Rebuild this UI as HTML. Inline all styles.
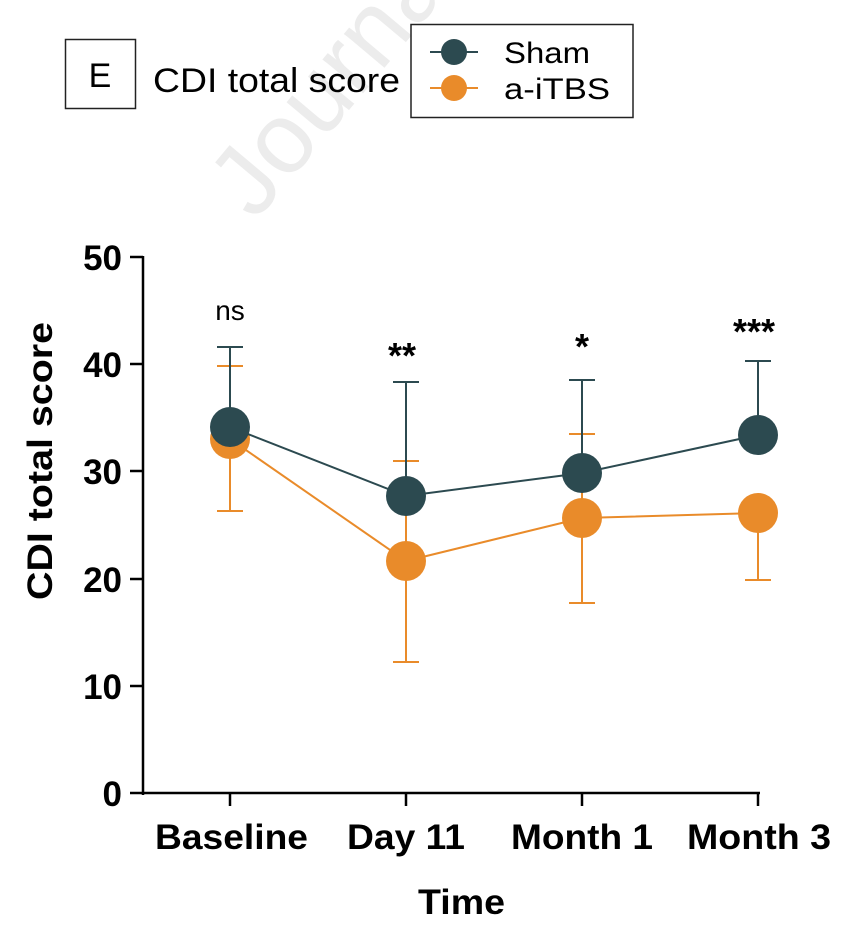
<!DOCTYPE html>
<html><head><meta charset="utf-8"><style>
html,body{margin:0;padding:0;background:#fff;}
svg{display:block;font-family:"Liberation Sans",Arial,sans-serif;}
</style></head><body>
<svg width="867" height="926" viewBox="0 0 867 926" xmlns="http://www.w3.org/2000/svg">
<text x="255" y="222" font-size="100" fill="#ececec" transform="rotate(-50 255 222)">Journal</text>
<rect x="65.5" y="39.5" width="70" height="69" fill="none" stroke="#222" stroke-width="1.5"/>
<text x="100" y="87" font-size="34" text-anchor="middle" fill="#000">E</text>
<text x="153" y="92" font-size="34" fill="#000" textLength="247" lengthAdjust="spacingAndGlyphs">CDI total score</text>
<rect x="411" y="24.5" width="222" height="93" fill="#fff" stroke="#222" stroke-width="1.5"/>
<line x1="430" y1="52" x2="478" y2="52" stroke="#2c4a50" stroke-width="2"/>
<circle cx="454" cy="52" r="13" fill="#2c4a50"/>
<line x1="430" y1="88" x2="478" y2="88" stroke="#e98b2a" stroke-width="2"/>
<circle cx="454" cy="88" r="13" fill="#e98b2a"/>
<text x="504" y="63" font-size="30" fill="#000" textLength="86" lengthAdjust="spacingAndGlyphs">Sham</text>
<text x="504" y="99" font-size="30" fill="#000" textLength="106" lengthAdjust="spacingAndGlyphs">a-iTBS</text>
<g stroke="#000" stroke-width="2.5">
<line x1="143" y1="256" x2="143" y2="795"/>
<line x1="142" y1="793" x2="760" y2="793"/>
<line x1="130" y1="257" x2="143" y2="257"/>
<line x1="130" y1="364" x2="143" y2="364"/>
<line x1="130" y1="471" x2="143" y2="471"/>
<line x1="130" y1="579" x2="143" y2="579"/>
<line x1="130" y1="686" x2="143" y2="686"/>
<line x1="130" y1="793" x2="143" y2="793"/>
<line x1="230" y1="793" x2="230" y2="806"/>
<line x1="406" y1="793" x2="406" y2="806"/>
<line x1="582" y1="793" x2="582" y2="806"/>
<line x1="758" y1="793" x2="758" y2="806"/>
</g>
<g font-size="35" font-weight="bold" text-anchor="end" fill="#000">
<text x="122" y="270">50</text><text x="122" y="377">40</text><text x="122" y="484">30</text>
<text x="122" y="592">20</text><text x="122" y="699">10</text><text x="122" y="806">0</text>
</g>
<g font-size="35" font-weight="bold" fill="#000">
<text x="155" y="849" textLength="153" lengthAdjust="spacingAndGlyphs">Baseline</text>
<text x="347" y="849" textLength="118" lengthAdjust="spacingAndGlyphs">Day 11</text>
<text x="511" y="849" textLength="142" lengthAdjust="spacingAndGlyphs">Month 1</text>
<text x="687" y="849" textLength="144" lengthAdjust="spacingAndGlyphs">Month 3</text>
<text x="418" y="914" textLength="87" lengthAdjust="spacingAndGlyphs">Time</text>
<text transform="translate(52 600) rotate(-90)" textLength="278" lengthAdjust="spacingAndGlyphs">CDI  total score</text>
</g>
<g stroke="#e98b2a" stroke-width="2" fill="none">
<line x1="230" y1="366" x2="230" y2="511"/><line x1="217" y1="366" x2="243" y2="366"/><line x1="217" y1="511" x2="243" y2="511"/>
<line x1="406" y1="461" x2="406" y2="662"/><line x1="393" y1="461" x2="419" y2="461"/><line x1="393" y1="662" x2="419" y2="662"/>
<line x1="582" y1="434" x2="582" y2="603"/><line x1="569" y1="434" x2="595" y2="434"/><line x1="569" y1="603" x2="595" y2="603"/>
<line x1="758" y1="513" x2="758" y2="580"/><line x1="745" y1="580" x2="771" y2="580"/>
<polyline points="230,439 406,561 582,518 758,513"/>
</g>
<g fill="#e98b2a">
<circle cx="230" cy="439" r="20"/><circle cx="406" cy="561" r="20"/><circle cx="582" cy="518" r="20"/><circle cx="758" cy="513" r="20"/>
</g>
<g stroke="#2c4a50" stroke-width="2" fill="none">
<line x1="230" y1="347" x2="230" y2="428"/><line x1="217" y1="347" x2="243" y2="347"/>
<line x1="406" y1="382" x2="406" y2="496"/><line x1="393" y1="382" x2="419" y2="382"/>
<line x1="582" y1="380" x2="582" y2="473"/><line x1="569" y1="380" x2="595" y2="380"/>
<line x1="758" y1="361" x2="758" y2="435"/><line x1="745" y1="361" x2="771" y2="361"/>
<polyline points="230,427 406,496 582,473 758,435"/>
</g>
<g fill="#2c4a50">
<circle cx="230" cy="427" r="20"/><circle cx="406" cy="496" r="20"/><circle cx="582" cy="473" r="20"/><circle cx="758" cy="435" r="20"/>
</g>
<g text-anchor="middle" fill="#000">
<text x="230" y="320" font-size="28">ns</text>
<text x="402" y="368" font-size="36" font-weight="bold">**</text>
<text x="582" y="359" font-size="36" font-weight="bold">*</text>
<text x="754" y="344" font-size="36" font-weight="bold">***</text>
</g>
</svg>
</body></html>
